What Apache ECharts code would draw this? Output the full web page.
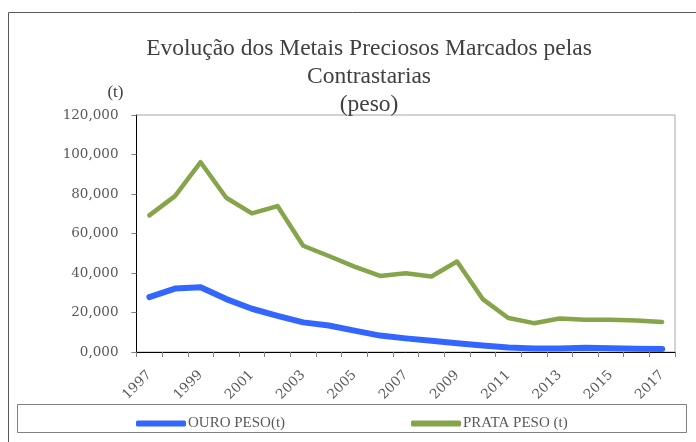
<!DOCTYPE html>
<html>
<head>
<meta charset="utf-8">
<script src="https://cdn.jsdelivr.net/npm/echarts@6/dist/echarts.min.js"></script>
<style>html,body{margin:0;padding:0;background:#fff}#c{width:696px;height:442px}</style>
</head>
<body>
<div id="c"></div>
<script>
var years = ['1997','1998','1999','2000','2001','2002','2003','2004','2005','2006','2007','2008','2009','2010','2011','2012','2013','2014','2015','2016','2017'];
var ouroPeso = [27.8, 32.1, 32.8, 26.8, 21.9, 18.3, 15.0, 13.4, 10.8, 8.3, 6.9, 5.7, 4.4, 3.3, 2.3, 1.8, 1.8, 2.1, 1.9, 1.7, 1.5];
var prataPeso = [69.2, 78.9, 96.1, 78.1, 70.2, 73.9, 53.8, 48.6, 43.2, 38.5, 39.9, 38.2, 45.8, 26.8, 17.2, 14.6, 17.0, 16.3, 16.3, 16.0, 15.2];
var yTicks = {min: 0, max: 120, interval: 20};

var FONT = 'Liberation Serif';
var AXFONT = 'DejaVu Serif';
var chart = echarts.init(document.getElementById('c'), null, {renderer: 'canvas'});
chart.setOption({
  animation: false,
  backgroundColor: '#ffffff',
  title: {
    text: 'Evolução dos Metais Preciosos Marcados pelas\nContrastarias\n(peso)',
    left: 364, top: 30, textAlign: 'center',
    textStyle: {fontFamily: FONT, fontSize: 23.5, fontWeight: 'normal', color: '#404040', lineHeight: 28}
  },
  graphic: [
    {type: 'rect', shape: {x: 8.5, y: 12.5, width: 800, height: 600}, style: {fill: 'none', stroke: '#595959', lineWidth: 1}, z: -1},
    {type: 'rect', shape: {x: 17.5, y: 404.5, width: 669, height: 28}, style: {fill: 'none', stroke: '#808080', lineWidth: 1}, z: -1}
  ],
  legend: [
    {data: ['OURO PESO(t)'], left: 131, top: 411, itemWidth: 50, itemHeight: 6, itemGap: 4, icon: 'roundRect',
     textStyle: {fontFamily: FONT, fontSize: 15, color: '#595959', padding: [0, 0, 0, -3]}},
    {data: ['PRATA PESO (t)'], left: 406, top: 411, itemWidth: 50, itemHeight: 6, itemGap: 4, icon: 'roundRect',
     textStyle: {fontFamily: FONT, fontSize: 15, color: '#595959', padding: [0, 0, 0, -3]}}
  ],
  grid: {left: 136.5, right: 21, top: 115, bottom: 90, show: true, borderColor: '#a6a6a6', borderWidth: 1},
  xAxis: {
    type: 'category', data: years, boundaryGap: true,
    axisLine: {lineStyle: {color: '#000', width: 1}},
    axisTick: {show: true, interval: 0, length: 5, lineStyle: {color: '#808080'}},
    axisLabel: {interval: 1, rotate: 45, margin: 21, fontFamily: AXFONT, fontSize: 13.5, color: '#595959'},
    splitLine: {show: false}
  },
  yAxis: {
    type: 'value', min: yTicks.min, max: yTicks.max, interval: yTicks.interval,
    name: '(t)', nameLocation: 'end', nameGap: 14,
    nameTextStyle: {fontFamily: FONT, fontSize: 17, color: '#404040', align: 'right', padding: [0, 13, 0, 0]},
    axisLine: {show: true, lineStyle: {color: '#000', width: 1}},
    axisTick: {show: true, length: 5, lineStyle: {color: '#808080'}},
    axisLabel: {margin: 18, fontFamily: AXFONT, fontSize: 13.5, color: '#595959',
      formatter: function (v) { return v.toFixed(3).replace('.', ','); }},
    splitLine: {show: false}
  },
  series: [
    {name: 'OURO PESO(t)', type: 'line', data: ouroPeso, showSymbol: false, symbol: 'none',
     lineStyle: {color: '#3366FF', width: 6, cap: 'round', join: 'round'}, itemStyle: {color: '#3366FF'}},
    {name: 'PRATA PESO (t)', type: 'line', data: prataPeso, showSymbol: false, symbol: 'none',
     lineStyle: {color: '#86A44A', width: 4.5, cap: 'round', join: 'round'}, itemStyle: {color: '#86A44A'}}
  ]
});
</script>
</body>
</html>
